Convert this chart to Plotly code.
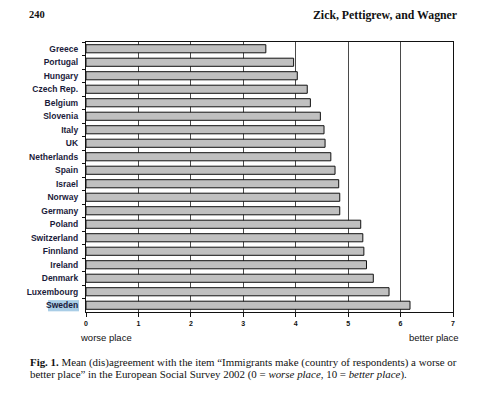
import plotly.graph_objects as go

countries = ["Greece", "Portugal", "Hungary", "Czech Rep.", "Belgium", "Slovenia", "Italy", "UK",
             "Netherlands", "Spain", "Israel", "Norway", "Germany", "Poland", "Switzerland",
             "Finnland", "Ireland", "Denmark", "Luxembourg", "Sweden"]
means = [3.43, 3.96, 4.03, 4.22, 4.28, 4.47, 4.54, 4.56, 4.67, 4.75,
         4.82, 4.84, 4.84, 5.24, 5.28, 5.30, 5.35, 5.48, 5.78, 6.18]
x_ticks = [0, 1, 2, 3, 4, 5, 6, 7]

W, H = 489, 394
pl, pr, pt, pb = 86, 36, 42, 82
pw, ph = W - pl - pr, H - pt - pb

def px(xp):
    return (xp - pl) / pw

def py(yp):
    return (H - pb - yp) / ph

serif = "Liberation Serif, Times New Roman, serif"
sans = "Liberation Sans, Arial, sans-serif"

fig = go.Figure()
fig.add_trace(go.Bar(
    x=means, y=countries, orientation="h", width=0.6,
    marker=dict(color="#c0c0c0", line=dict(color="#111111", width=1)),
    showlegend=False, hoverinfo="x+y",
))

cap1 = "<b>Fig. 1.</b> Mean (dis)agreement with the item “Immigrants make (country of respondents) a worse or"
cap2 = "better place” in the European Social Survey 2002 (0 = <i>worse place</i>, 10 = <i>better place</i>)."

fig.update_layout(
    width=W, height=H,
    margin=dict(l=pl, r=pr, t=pt, b=pb),
    paper_bgcolor="white", plot_bgcolor="white",
    font=dict(family=sans, color="#111111"),
    xaxis=dict(range=[0, 7], tickvals=x_ticks, ticktext=[str(v) for v in x_ticks],
               showgrid=True, gridcolor="#4a4a4a", gridwidth=1.3,
               showline=True, linecolor="#111111", linewidth=1.3, mirror=True,
               ticks="outside", ticklen=4, tickcolor="#111111",
               tickfont=dict(size=7, weight="bold", color="#111111"),
               zeroline=False, fixedrange=True),
    yaxis=dict(autorange="reversed", tickson="boundaries", ticks="outside", ticklen=3,
               tickcolor="#111111", showline=True, linecolor="#111111", linewidth=1.3,
               mirror=True, showgrid=False,
               tickfont=dict(size=8.5, weight="bold", color="#1b1b3b"),
               ticklabelstandoff=5, fixedrange=True),
    shapes=[dict(type="rect", xref="paper", yref="y", x0=px(48), x1=px(79),
                 y0=18.62, y1=19.45, fillcolor="#a9cde6", line=dict(width=0), layer="below")],
    annotations=[
        dict(text="worse place", x=px(78), y=py(337), xref="paper", yref="paper", showarrow=False,
             xanchor="left", yanchor="middle", font=dict(size=9.5, family=sans)),
        dict(text="better place", x=px(461), y=py(337), xref="paper", yref="paper", showarrow=False,
             xanchor="right", yanchor="middle", font=dict(size=9.5, family=sans)),
        dict(text="<b>240</b>", x=px(27), y=py(15), xref="paper", yref="paper", showarrow=False,
             xanchor="left", yanchor="middle", font=dict(size=10.5, family=serif)),
        dict(text="<b>Zick, Pettigrew, and Wagner</b>", x=px(459), y=py(15), xref="paper",
             yref="paper", showarrow=False, xanchor="right", yanchor="middle",
             font=dict(size=11.8, family=serif)),
        dict(text=cap1, x=px(28), y=py(362), xref="paper", yref="paper", showarrow=False,
             align="left", xanchor="left", yanchor="middle", font=dict(size=10.9, family=serif)),
        dict(text=cap2, x=px(28), y=py(374), xref="paper", yref="paper", showarrow=False,
             align="left", xanchor="left", yanchor="middle", font=dict(size=10.9, family=serif)),
    ],
)

fig.write_html("out.html", config={"displayModeBar": False},
               post_script="document.body.style.margin='0';")
